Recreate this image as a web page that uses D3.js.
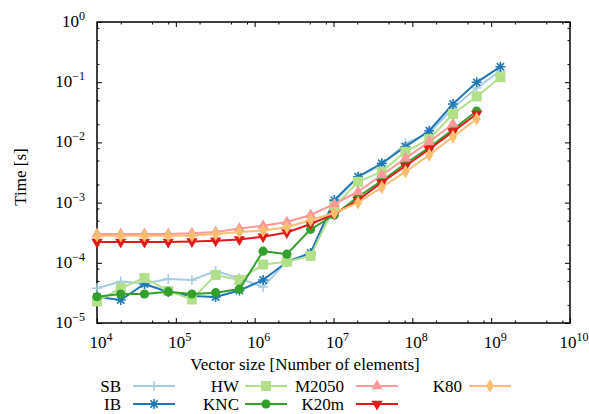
<!DOCTYPE html>
<html>
<head>
<meta charset="utf-8">
<script src="https://cdn.jsdelivr.net/npm/d3@7"></script>
<style>
  html, body { margin: 0; padding: 0; background: #fff; }
  svg { display: block; }
</style>
</head>
<body>
<svg id="chart" width="589" height="414" font-family="'Liberation Serif', Tinos, 'DejaVu Serif', serif"></svg>
<script>
// ---------- data ----------
const sizes = [1e4, 2e4, 4e4, 8e4, 1.6e5, 3.2e5, 6.4e5, 1.28e6, 2.56e6, 5.12e6,
               1.024e7, 2.048e7, 4.096e7, 8.192e7, 1.6384e8, 3.2768e8, 6.5536e8, 1.31072e9];

const SB    = [3.77e-5, 4.89e-5, 4.53e-5, 5.38e-5, 5.18e-5, 7.3e-5, 5.53e-5, 3.96e-5, 1.07e-4, 1.40e-4,
               1.02e-3, 2.66e-3, 4.21e-3, 9.66e-3, 1.43e-2, 3.73e-2, 8.01e-2, 0.154];
const IB    = [2.70e-5, 2.41e-5, 4.45e-5, 3.27e-5, 2.81e-5, 2.70e-5, 3.47e-5, 5.18e-5, 1.03e-4, 1.46e-4,
               1.10e-3, 2.69e-3, 4.50e-3, 8.49e-3, 1.56e-2, 4.34e-2, 9.96e-2, 0.181];
const HW    = [2.28e-5, 3.81e-5, 5.60e-5, 3.40e-5, 2.46e-5, 6.27e-5, 5.18e-5, 9.37e-5, 1.04e-4, 1.30e-4,
               8.55e-4, 2.22e-3, 3.26e-3, 7.01e-3, 1.13e-2, 2.96e-2, 5.79e-2, 0.121];
const KNC   = [2.73e-5, 3.03e-5, 3.03e-5, 3.31e-5, 3.03e-5, 3.19e-5, 3.67e-5, 1.56e-4, 1.39e-4, 3.60e-4,
               6.22e-4, 1.25e-3, 2.29e-3, 4.46e-3, 8.23e-3, 1.64e-2, 3.32e-2];
const M2050 = [3.01e-4, 3.01e-4, 3.01e-4, 3.01e-4, 3.09e-4, 3.25e-4, 3.72e-4, 4.13e-4, 4.76e-4, 6.22e-4,
               9.48e-4, 1.52e-3, 2.87e-3, 5.44e-3, 1.03e-2, 2.02e-2];
const K20m  = [2.22e-4, 2.22e-4, 2.22e-4, 2.22e-4, 2.26e-4, 2.33e-4, 2.44e-4, 2.72e-4, 3.19e-4, 4.41e-4,
               6.47e-4, 1.10e-3, 2.16e-3, 4.06e-3, 7.68e-3, 1.51e-2, 2.96e-2];
const K80   = [2.82e-4, 2.82e-4, 2.82e-4, 2.82e-4, 2.85e-4, 3.01e-4, 3.25e-4, 3.44e-4, 3.89e-4, 5.14e-4,
               6.72e-4, 9.96e-4, 1.80e-3, 3.26e-3, 6.18e-3, 1.24e-2, 2.45e-2];

const seriesNames = ["SB", "IB", "HW", "KNC", "M2050", "K20m", "K80"];
const seriesValues = [SB, IB, HW, KNC, M2050, K20m, K80];

const xTickExps = [4, 5, 6, 7, 8, 9, 10];
const yTickExps = [0, -1, -2, -3, -4, -5];
const minorMult = [2, 5, 8];

const xTitle = "Vector size [Number of elements]";
const yTitle = "Time [s]";

// ---------- styles ----------
const colors = {SB: "#a6cee3", IB: "#1f78b4", HW: "#b2df8a", KNC: "#33a02c",
                M2050: "#fb9a99", K20m: "#e31a1c", K80: "#fdbf6f"};
const markers = {SB: "plus", IB: "star", HW: "square", KNC: "circle",
                 M2050: "triUp", K20m: "triDown", K80: "diamond"};
// legend layout: [labelRightX, lineX1, lineX2, rowY]
const legendPos = {
  SB:    [121, 133, 175, 386], IB:   [121, 133, 175, 404],
  HW:    [239, 245, 287, 386], KNC:  [239, 245, 287, 404],
  M2050: [344, 356, 398, 386], K20m: [344, 356, 398, 404],
  K80:   [462, 469, 511, 386]
};
const FS = 17;

const L = 97, R = 570, T = 22, B = 323;
const svg = d3.select("#chart");
const x = d3.scaleLog().domain([1e4, 1e10]).range([L, R]);
const y = d3.scaleLog().domain([1e-5, 1]).range([B, T]);

const majorX = xTickExps.map(e => Math.pow(10, e));
const majorY = yTickExps.map(e => Math.pow(10, e));
const minorX = [], minorY = [];
for (let e = 4; e < 10; e++) minorMult.forEach(m => minorX.push(m * Math.pow(10, e)));
for (let e = -5; e < 0; e++) minorMult.forEach(m => minorY.push(m * Math.pow(10, e)));

function tickAxis(axisFn, scale, vals, size, transform) {
  const g = svg.append("g").attr("transform", transform)
    .call(axisFn(scale).tickValues(vals).tickSize(-size).tickSizeOuter(0).tickFormat(""));
  g.select(".domain").remove();
  g.selectAll("line").attr("stroke", "#000").attr("stroke-width", 1);
}
tickAxis(d3.axisBottom, x, majorX, 5, `translate(0,${B})`);
tickAxis(d3.axisBottom, x, minorX, 2.5, `translate(0,${B})`);
tickAxis(d3.axisTop, x, majorX, 5, `translate(0,${T})`);
tickAxis(d3.axisTop, x, minorX, 2.5, `translate(0,${T})`);
tickAxis(d3.axisLeft, y, majorY, 5, `translate(${L},0)`);
tickAxis(d3.axisLeft, y, minorY, 2.5, `translate(${L},0)`);
tickAxis(d3.axisRight, y, majorY, 5, `translate(${R},0)`);
tickAxis(d3.axisRight, y, minorY, 2.5, `translate(${R},0)`);

svg.append("rect").attr("x", L).attr("y", T).attr("width", R - L).attr("height", B - T)
  .attr("fill", "none").attr("stroke", "#000").attr("stroke-width", 1.5);

// tick labels
function expLabel(g, e) {
  g.append("tspan").text("10");
  g.append("tspan").attr("dy", -7).attr("font-size", 12).text(e < 0 ? "\u2212" + (-e) : String(e));
}
xTickExps.forEach(e => {
  const t = svg.append("text").attr("x", x(Math.pow(10, e)) + 4).attr("y", 348)
    .attr("text-anchor", "middle").attr("font-size", FS);
  expLabel(t, e);
});
yTickExps.forEach(e => {
  const t = svg.append("text").attr("x", 85).attr("y", y(Math.pow(10, e)) + 5)
    .attr("text-anchor", "end").attr("font-size", FS);
  expLabel(t, e);
});

svg.append("text").attr("x", 305).attr("y", 370).attr("text-anchor", "middle")
  .attr("font-size", FS).text(xTitle);
svg.append("text").attr("transform", "translate(26,177) rotate(-90)")
  .attr("text-anchor", "middle").attr("font-size", FS).text(yTitle);

// markers
function drawMarker(g, type, cx, cy, color) {
  const sym = (t, s, rot) => g.append("path")
    .attr("d", d3.symbol().type(t).size(s)())
    .attr("transform", `translate(${cx},${cy})` + (rot ? ` rotate(${rot})` : ""))
    .attr("fill", color);
  if (type === "plus") {
    g.append("path").attr("d", `M${cx - 5},${cy}H${cx + 5}M${cx},${cy - 5}V${cy + 5}`)
      .attr("stroke", color).attr("stroke-width", 1.5).attr("fill", "none");
  } else if (type === "star") {
    const r = 5, d = 3.6;
    g.append("path").attr("d",
      `M${cx - r},${cy}H${cx + r}M${cx},${cy - r}V${cy + r}` +
      `M${cx - d},${cy - d}L${cx + d},${cy + d}M${cx - d},${cy + d}L${cx + d},${cy - d}`)
      .attr("stroke", color).attr("stroke-width", 1.6).attr("fill", "none");
  } else if (type === "square") sym(d3.symbolSquare, 100);
  else if (type === "circle") sym(d3.symbolCircle, 66);
  else if (type === "triUp") sym(d3.symbolTriangle, 55);
  else if (type === "triDown") sym(d3.symbolTriangle, 55, 180);
  else if (type === "diamond") sym(d3.symbolDiamond, 55);
}

const line = d3.line().x(d => x(d[0])).y(d => y(d[1]));
seriesNames.forEach((name, i) => {
  const vals = seriesValues[i];
  const pts = vals.map((v, j) => [sizes[j], v]);
  const g = svg.append("g");
  g.append("path").datum(pts).attr("d", line).attr("fill", "none")
    .attr("stroke", colors[name]).attr("stroke-width", 2);
  pts.forEach(p => drawMarker(g, markers[name], x(p[0]), y(p[1]), colors[name]));

  // legend
  const [lx, x1, x2, ly] = legendPos[name];
  svg.append("text").attr("x", lx).attr("y", ly + 6).attr("text-anchor", "end")
    .attr("font-size", FS).text(name);
  const lg = svg.append("g");
  lg.append("line").attr("x1", x1).attr("x2", x2).attr("y1", ly).attr("y2", ly)
    .attr("stroke", colors[name]).attr("stroke-width", 2);
  drawMarker(lg, markers[name], (x1 + x2) / 2, ly, colors[name]);
});
</script>
</body>
</html>
